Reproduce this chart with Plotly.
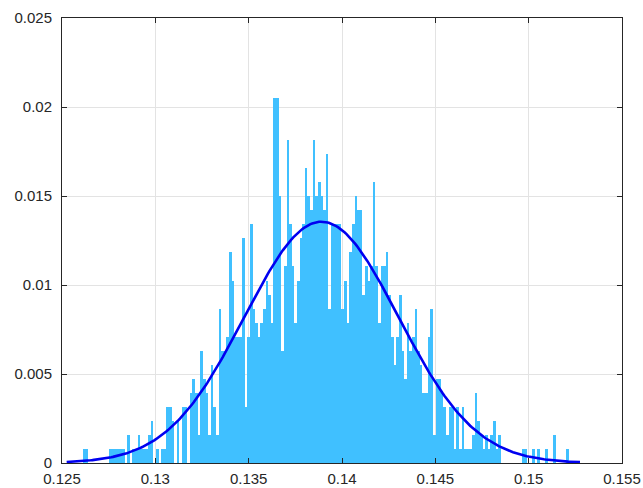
import numpy as np
import plotly.graph_objects as go

# ---- data ----
# histogram counts per bin (consecutive bins, left to right)
bin_counts = [
    1, 1, 0, 0, 0, 0, 0, 0, 0, 0,
    1, 1, 1, 1, 1, 1, 0, 2, 0, 1,
    1, 2, 1, 1, 1, 2, 3, 0, 1, 0,
    1, 1, 4, 4, 3, 0, 3, 0, 4, 4,
    0, 5, 6, 5, 2, 8, 6, 5, 2, 7,
    4, 2, 11, 8, 8, 9, 15, 13, 9, 9,
    9, 16, 4, 9, 17, 11, 10, 9, 10, 11,
    13, 12, 10, 26, 26, 19, 8, 14, 23, 17,
    14, 10, 13, 16, 17, 21, 19, 18, 23, 19,
    20, 19, 18, 22, 11, 17, 17, 17, 17, 11,
    13, 10, 15, 17, 19, 18, 18, 12, 14, 13,
    14, 20, 14, 10, 14, 14, 15, 12, 9, 7,
    9, 12, 8, 6, 10, 8, 9, 11, 8, 7,
    5, 5, 9, 11, 2, 6, 6, 5, 4, 2,
    4, 4, 1, 4, 1, 4, 1, 1, 1, 2,
    5, 3, 2, 1, 2, 1, 2, 3, 1, 2,
    0, 0, 0, 0, 0, 0, 0, 0, 1, 1,
    0, 0, 1, 0, 1, 0, 0, 1, 0, 0,
    2, 0, 0, 0, 0, 1,
]
bin_start = 0.12611      # left edge of first bin
bin_width = 0.00014

# fitted normal curve, parameters
fit_mean = 0.13890
fit_std = 0.00412
curve_x_min = 0.12525
curve_x_max = 0.15275

x_tick_vals = [0.125, 0.13, 0.135, 0.14, 0.145, 0.15, 0.155]
x_tick_text = ["0.125", "0.13", "0.135", "0.14", "0.145", "0.15", "0.155"]
y_tick_vals = [0, 0.005, 0.01, 0.015, 0.02, 0.025]
y_tick_text = ["0", "0.005", "0.01", "0.015", "0.02", "0.025"]

# ---- derived ----
counts = np.array(bin_counts, dtype=float)
n_total = counts.sum()
centers = bin_start + (np.arange(len(counts)) + 0.5) * bin_width
prob = counts / n_total

xc = np.linspace(curve_x_min, curve_x_max, 300)
yc = bin_width * np.exp(-0.5 * ((xc - fit_mean) / fit_std) ** 2) / (fit_std * np.sqrt(2 * np.pi))

fig = go.Figure()
fig.add_trace(go.Bar(
    x=centers, y=prob, width=bin_width,
    marker=dict(color="#40C0FF", line=dict(width=0)),
    hoverinfo="skip",
))
fig.add_trace(go.Scatter(
    x=xc, y=yc, mode="lines",
    line=dict(color="#0000F0", width=2.6),
    hoverinfo="skip",
))

axis_common = dict(
    showline=True, linecolor="#262626", linewidth=1, mirror="ticks",
    ticks="inside", ticklen=5, tickcolor="#262626", tickwidth=1,
    showgrid=True, gridcolor="#e3e3e3", gridwidth=1,
    zeroline=False, automargin=False,
    tickfont=dict(family="Liberation Sans, Arial, sans-serif", size=15, color="#262626"),
)

fig.update_layout(
    width=643, height=488,
    margin=dict(l=62, r=21, t=18, b=25),
    paper_bgcolor="white", plot_bgcolor="white",
    showlegend=False, bargap=0,
    xaxis=dict(range=[0.125, 0.155], tickvals=x_tick_vals, ticktext=x_tick_text,
               ticklabelstandoff=2, **axis_common),
    yaxis=dict(range=[0, 0.025], tickvals=y_tick_vals, ticktext=y_tick_text,
               ticklabelstandoff=6, **axis_common),
)

fig.write_html("out.html")
